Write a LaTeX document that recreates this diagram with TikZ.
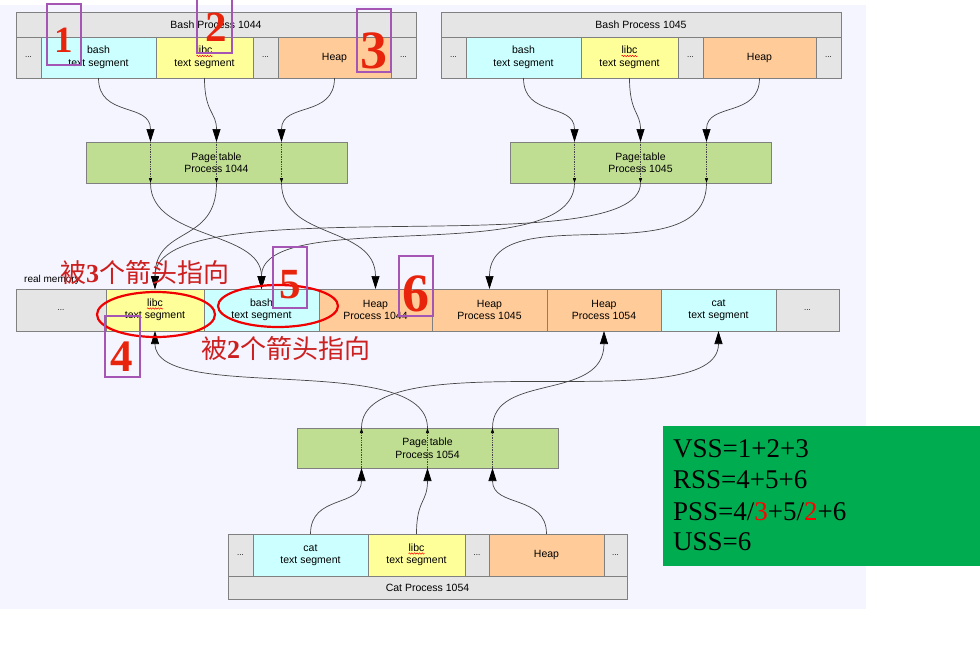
\documentclass[tikz,border=0pt]{standalone}
\usepackage{fontspec}
\setmainfont{Liberation Sans}
\newfontfamily\cjkfont{Noto Sans CJK SC}
\newfontfamily\serifnum{Liberation Serif}
\usetikzlibrary{arrows.meta,calc,decorations.pathmorphing}

\definecolor{bgc}{RGB}{245,245,255}
\definecolor{cellgray}{RGB}{229,229,229}
\definecolor{cellcyan}{RGB}{204,255,255}
\definecolor{cellyellow}{RGB}{255,255,153}
\definecolor{cellorange}{RGB}{255,204,153}
\definecolor{ptgreen}{RGB}{192,222,145}
\definecolor{edgegray}{RGB}{128,128,128}
\definecolor{wirec}{RGB}{70,70,70}
\definecolor{notered}{RGB}{204,32,32}
\definecolor{markred}{RGB}{232,36,12}
\definecolor{markpurple}{RGB}{165,85,180}
\definecolor{sumgreen}{RGB}{0,172,80}
\definecolor{circred}{RGB}{240,0,0}

\newcommand\dotsword{{\fontsize{8}{9}\selectfont ...}}

\tikzset{
  cell/.style={draw=edgegray, line width=0.8pt, inner sep=0pt, outer sep=0pt,
    align=center, font=\fontsize{10.5}{12.5}\selectfont, anchor=north west},
  ptable/.style={cell, fill=ptgreen, minimum width=261},
  wire/.style={draw=wirec, line width=0.7pt},
  bigtip/.style={wire, -{Triangle[length=13pt,width=8pt,black]}},
  smalltip/.style={wire, densely dotted, -{Triangle[length=5pt,width=3pt,black]}},
  note/.style={text=notered, inner sep=0pt, anchor=west, font=\fontsize{26}{28}\selectfont},
  markbox/.style={draw=markpurple, line width=2pt},
  marknum/.style={text=markred, inner sep=0pt, font=\serifnum\bfseries\fontsize{#1}{#1}\selectfont},
  ring/.style={draw=circred, line width=2.2pt},
  sumtext/.style={inner sep=0pt, anchor=base west, font=\serifnum\fontsize{27}{30}\selectfont},
  squig/.style={draw=red, line width=0.5pt, decorate,
    decoration={snake, amplitude=0.7pt, segment length=2.6pt}},
}

% \mcell{name}{x1}{y1}{x2}{y2}{fill}{text}
\newcommand\mcell[7]{\node[cell, fill=#6, minimum width={(#4)-(#2)}, minimum height={(#5)-(#3)}] (#1) at (#2,#3) {#7};}
% spell-check squiggle under the word "libc" in a two-line cell
\newcommand\libcsquiggle[1]{\draw[squig] ($(#1.center)+(-8,-1.5)$) -- ++(16,0);}

\begin{document}
\begin{tikzpicture}[x=1pt, y=-1pt]
\useasboundingbox (0,0) rectangle (980,672);
\fill[white] (0,0) rectangle (980,672);
\fill[bgc] (0,5) rectangle (866,609);

% ---- Bash process 1044
\mcell{p44head}{16}{12}{416}{37}{cellgray}{Bash Process 1044}
\mcell{p44d1}{16}{37}{41}{78}{cellgray}{\dotsword}
\mcell{p44bash}{41}{37}{156}{78}{cellcyan}{bash\\text segment}
\mcell{p44libc}{156}{37}{253}{78}{cellyellow}{libc\\text segment}
\mcell{p44d2}{253}{37}{278}{78}{cellgray}{\dotsword}
\mcell{p44heap}{278}{37}{391}{78}{cellorange}{Heap}
\mcell{p44d3}{391}{37}{416}{78}{cellgray}{\dotsword}

% ---- Bash process 1045
\mcell{p45head}{441}{12}{841}{37}{cellgray}{Bash Process 1045}
\mcell{p45d1}{441}{37}{466}{78}{cellgray}{\dotsword}
\mcell{p45bash}{466}{37}{581}{78}{cellcyan}{bash\\text segment}
\mcell{p45libc}{581}{37}{678}{78}{cellyellow}{libc\\text segment}
\mcell{p45d2}{678}{37}{703}{78}{cellgray}{\dotsword}
\mcell{p45heap}{703}{37}{816}{78}{cellorange}{Heap}
\mcell{p45d3}{816}{37}{841}{78}{cellgray}{\dotsword}

% ---- page tables
\node[ptable, minimum height=41] (pt44) at (86,142) {Page table\\Process 1044};
\node[ptable, minimum height=41] (pt45) at (510,142) {Page table\\Process 1045};
\node[ptable, minimum height=40] (pt54) at (297,428) {Page table\\Process 1054};

% ---- real memory
\node[inner sep=0pt, anchor=west, font=\fontsize{10}{12}\selectfont] (rmlabel) at (24,280) {real memory};
\mcell{md1}{16}{289}{106}{331}{cellgray}{\dotsword}
\mcell{mlibc}{106}{289}{204}{331}{cellyellow}{libc\\text segment}
\mcell{mbash}{204}{289}{319}{331}{cellcyan}{bash\\text segment}
\mcell{mh44}{319}{289}{432}{331}{cellorange}{Heap\\Process 1044}
\mcell{mh45}{432}{289}{547}{331}{cellorange}{Heap\\Process 1045}
\mcell{mh54}{547}{289}{661}{331}{cellorange}{Heap\\Process 1054}
\mcell{mcat}{661}{289}{776}{331}{cellcyan}{cat\\text segment}
\mcell{md2}{776}{289}{839}{331}{cellgray}{\dotsword}

% ---- Cat process 1054
\mcell{c54d1}{228}{534}{253}{576}{cellgray}{\dotsword}
\mcell{c54cat}{253}{534}{368}{576}{cellcyan}{cat\\text segment}
\mcell{c54libc}{368}{534}{465}{576}{cellyellow}{libc\\text segment}
\mcell{c54d2}{465}{534}{489}{576}{cellgray}{\dotsword}
\mcell{c54heap}{489}{534}{604}{576}{cellorange}{Heap}
\mcell{c54d3}{604}{534}{627}{576}{cellgray}{\dotsword}
\mcell{c54foot}{228}{576}{627}{599}{cellgray}{Cat Process 1054}

\libcsquiggle{p44libc}
\libcsquiggle{p45libc}
\libcsquiggle{mlibc}
\libcsquiggle{c54libc}

% ---- page table ports
\foreach \p/\dx in {1/-66,2/0,3/65} {
  \coordinate (pt44i\p) at ($(pt44.north)+(\dx,0)$);
  \coordinate (pt44o\p) at ($(pt44.south)+(\dx,0)$);
  \coordinate (pt54o\p) at ($(pt54.north)+(\dx,0)$);
  \coordinate (pt54i\p) at ($(pt54.south)+(\dx,0)$);
}
\foreach \p/\dx in {1/-66,2/0,3/66} {
  \coordinate (pt45i\p) at ($(pt45.north)+(\dx,0)$);
  \coordinate (pt45o\p) at ($(pt45.south)+(\dx,0)$);
}

% ---- processes 1044 / 1045 into their page tables
\draw[bigtip] (p44bash.south) .. controls +(0,40) and +(0,-40) .. (pt44i1);
\draw[bigtip] (p44libc.south) .. controls +(0,35) and +(0,-30) .. (pt44i2);
\draw[bigtip] (p44heap.south) .. controls +(0,40) and +(0,-40) .. (pt44i3);
\draw[bigtip] (p45bash.south) .. controls +(0,40) and +(0,-40) .. (pt45i1);
\draw[bigtip] (p45libc.south) .. controls +(0,35) and +(0,-30) .. (pt45i2);
\draw[bigtip] (p45heap.south) .. controls +(0,40) and +(0,-40) .. (pt45i3);
\foreach \p in {1,2,3} {
  \draw[smalltip] (pt44i\p) -- (pt44o\p);
  \draw[smalltip] (pt45i\p) -- (pt45o\p);
  \draw[smalltip] (pt54i\p) -- (pt54o\p);
}

% ---- page tables into real memory
\draw[bigtip] (pt44o1) .. controls +(0,57) and +(0,-59) .. (mbash.north);
\draw[bigtip] (pt44o2) .. controls +(0,62) and +(0,-64) .. (mlibc.north);
\draw[bigtip] (pt44o3) .. controls +(0,57) and +(0,-64) .. (mh44.north);
\draw[bigtip] (pt45o1) .. controls +(0,87) and +(0,-84) .. (mbash.north);
\draw[bigtip] (pt45o2) .. controls +(0,83) and +(0,-104) .. (mlibc.north);
\draw[bigtip] (pt45o3) .. controls +(0,94) and +(0,-94) .. (mh45.north);

% ---- cat process upwards
\draw[bigtip] (c54cat.north) .. controls +(0,-40) and +(0,40) .. (pt54i1);
\draw[bigtip] (c54libc.north) .. controls +(0,-35) and +(0,35) .. (pt54i2);
\draw[bigtip] (c54heap.north) .. controls +(0,-40) and +(0,40) .. (pt54i3);
\draw[bigtip] (pt54o1) .. controls +(0,-90) and +(0,91) .. (mcat.south);
\draw[bigtip] (pt54o2) .. controls +(0,-78) and +(0,74) .. (mlibc.south);
\draw[bigtip] (pt54o3) .. controls +(0,-56) and +(0,71) .. (mh54.south);

% ---- shared pages
\draw[ring] (156,314.5) ellipse [x radius=59, y radius=22.5];
\draw[ring] (278,306) ellipse [x radius=60, y radius=21];
\node[note] (note3) at (60,272) {{\cjkfont 被}{\serifnum\bfseries 3}{\cjkfont 个箭头指向}};
\node[note] (note2) at (201,348) {{\cjkfont 被}{\serifnum\bfseries 2}{\cjkfont 个箭头指向}};

% ---- numbered regions
\draw[markbox] (47,4) rectangle (81,65);
\node[marknum=37] (n1) at (64,40) {1};
\draw[markbox] (197,-3) rectangle (232,53);
\node[marknum=43] (n2) at (216,27) {2};
\draw[markbox] (357,9) rectangle (391,72);
\node[marknum=54] (n3) at (374,51) {3};
\draw[markbox] (105,316) rectangle (140,377);
\node[marknum=45] (n4) at (122,357) {4};
\draw[markbox] (273,247) rectangle (307,308);
\node[marknum=43] (n5) at (290,285) {5};
\draw[markbox] (399,256) rectangle (433,316);
\node[marknum=54] (n6) at (416,294) {6};

% ---- size formulas
\fill[sumgreen] (663,426) rectangle (980,566);
\node[sumtext] (vss) at (673,457) {VSS=1+2+3};
\node[sumtext] (rss) at (673,488) {RSS=4+5+6};
\node[sumtext] (pss) at (673,520) {PSS=4/{\color{red}3}+5/{\color{red}2}+6};
\node[sumtext] (uss) at (673,550) {USS=6};
\end{tikzpicture}
\end{document}
